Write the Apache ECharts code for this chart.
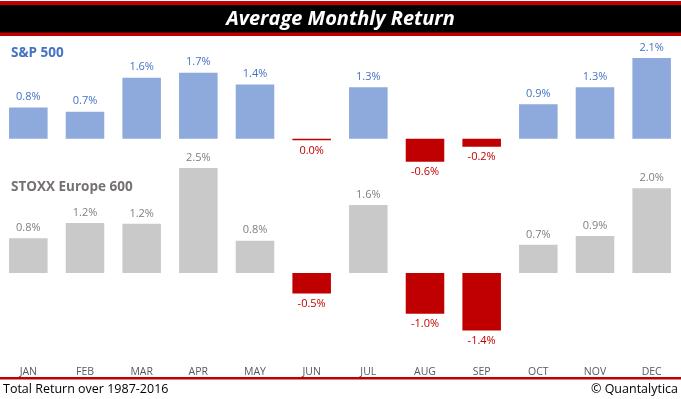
<!DOCTYPE html>
<html><head><meta charset="utf-8">
<script src="https://cdn.jsdelivr.net/npm/echarts@6/dist/echarts.min.js"></script>
<style>html,body{margin:0;padding:0;background:#fff}#c{width:681px;height:399px}</style>
</head><body><div id="c"></div>
<script>
const months = ['JAN','FEB','MAR','APR','MAY','JUN','JUL','AUG','SEP','OCT','NOV','DEC'];
const sp500 = [0.81, 0.70, 1.59, 1.72, 1.41, -0.04, 1.34, -0.60, -0.21, 0.90, 1.34, 2.10];
const stoxx600 = [0.83, 1.19, 1.17, 2.50, 0.77, -0.49, 1.62, -0.97, -1.37, 0.67, 0.88, 2.02];
const titleText = 'Average Monthly Return';
const spName = 'S&P 500';
const stoxxName = 'STOXX Europe 600';
const footLeft = 'Total Return over 1987-2016';
const footRight = '\u00A9 Quantalytica';

const FONT = 'Open Sans, DejaVu Sans, sans-serif';
const RED = '#C00000';
function fmt(v){ let r = (Math.round(v*10)/10); if (Object.is(r,-0) || r===0) r = 0; return r.toFixed(1) + '%'; }
function items(arr, barColor, labelColor){
  return arr.map(v => ({
    value: v,
    itemStyle: { color: v < 0 ? RED : barColor },
    label: { position: v < 0 ? 'bottom' : 'top', color: v < 0 ? RED : labelColor }
  }));
}
const chart = echarts.init(document.getElementById('c'), null, {renderer:'canvas'});
chart.setOption({
  animation: false,
  grid: [
    { left: 0, right: 1, top: 42.7, height: 134.4 },
    { left: 0, right: 1, top: 168, height: 189 }
  ],
  xAxis: [
    { type:'category', gridIndex:0, data: months, axisLine:{show:false}, axisTick:{show:false}, axisLabel:{show:false} },
    { type:'category', gridIndex:1, data: months, position:'bottom', axisLine:{show:false, onZero:false}, axisTick:{show:false},
      axisLabel:{ color:'#595959', fontSize:10.5, fontFamily: FONT, margin: 10 } }
  ],
  yAxis: [
    { type:'value', gridIndex:0, min:-1, max:2.5, show:false, splitLine:{show:false} },
    { type:'value', gridIndex:1, min:-2, max:2.5, show:false, splitLine:{show:false} }
  ],
  series: [
    { type:'bar', xAxisIndex:0, yAxisIndex:0, barWidth:'68%', data: items(sp500, '#8EA9DB', '#4472C4'),
      label:{ show:true, formatter: p => fmt(p.value), fontSize:11, fontFamily: FONT, distance:5 } },
    { type:'bar', xAxisIndex:1, yAxisIndex:1, barWidth:'68%', data: items(stoxx600, '#C9C9C9', '#7F7F7F'),
      label:{ show:true, formatter: p => fmt(p.value), fontSize:11, fontFamily: FONT, distance:5 } }
  ],
  graphic: [
    { type:'rect', shape:{x:0,y:1,width:681,height:4}, style:{fill:RED}, silent:true },
    { type:'rect', shape:{x:0,y:5,width:681,height:28}, style:{fill:'#000'}, silent:true },
    { type:'rect', shape:{x:0,y:32.5,width:681,height:3.5}, style:{fill:RED}, silent:true },
    { type:'text', x:340.5, y:19, style:{ text:titleText, fill:'#fff', font:'italic bold 20px ' + FONT, textAlign:'center', textVerticalAlign:'middle' }, silent:true },
    { type:'text', x:11, y:53, style:{ text:spName, fill:'#4472C4', font:'bold 13.5px ' + FONT, textAlign:'left', textVerticalAlign:'middle' }, silent:true },
    { type:'text', x:11, y:187, style:{ text:stoxxName, fill:'#767171', font:'bold 13.5px ' + FONT, textAlign:'left', textVerticalAlign:'middle' }, silent:true },
    { type:'rect', shape:{x:0,y:377,width:681,height:2.5}, style:{fill:RED}, silent:true },
    { type:'text', x:3, y:389, style:{ text:footLeft, fill:'#000', font:'12.5px ' + FONT, textAlign:'left', textVerticalAlign:'middle' }, silent:true },
    { type:'text', x:678, y:389, style:{ text:footRight, fill:'#000', font:'12.5px ' + FONT, textAlign:'right', textVerticalAlign:'middle' }, silent:true }
  ]
});
</script></body></html>
